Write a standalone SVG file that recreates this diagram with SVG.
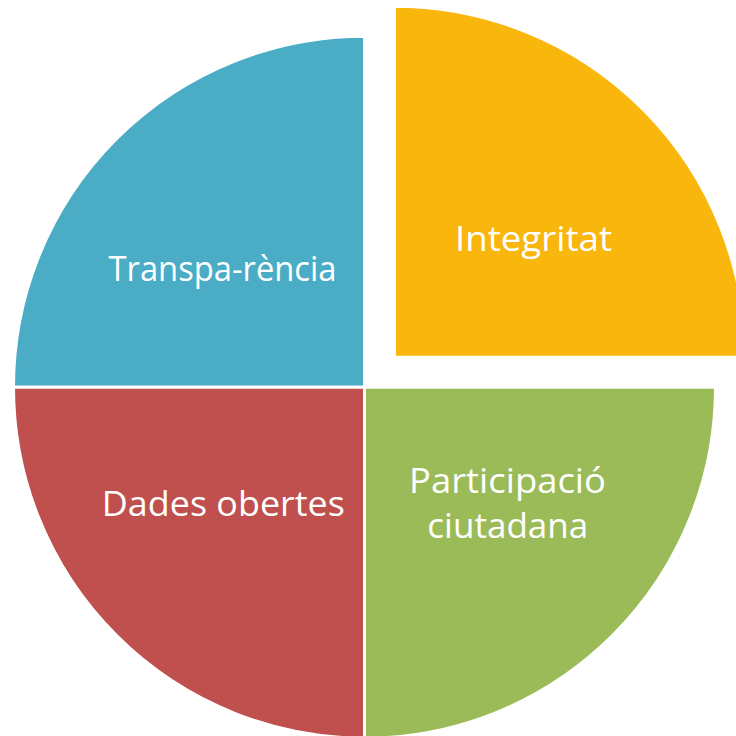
<svg xmlns="http://www.w3.org/2000/svg" width="736" height="736" viewBox="0 0 736 736">
  <style>
    .slice { stroke: #FFFFFF; stroke-width: 3; stroke-linejoin: miter; }
    .lbl { font-family: "Open Sans", "Liberation Sans", sans-serif; font-size: 35px; fill: #FFFFFF; text-anchor: middle; }
  </style>
  <rect width="736" height="736" fill="#FFFFFF"/>
  <g id="transparencia">
    <path class="slice" fill="#4BACC6" d="M364.5,387.2 L364.5,36.2 A351,351 0 0 0 13.5,387.2 Z"/>
    <text class="lbl" x="222.5" y="280.7" textLength="228" lengthAdjust="spacingAndGlyphs">Transpa-rència</text>
  </g>
  <g id="dades-obertes">
    <path class="slice" fill="#C0504D" d="M364.5,387.2 L13.5,387.2 A351,351 0 0 0 364.5,738.2 Z"/>
    <text class="lbl" x="223.3" y="515.7" textLength="243" lengthAdjust="spacingAndGlyphs">Dades obertes</text>
  </g>
  <g id="participacio-ciutadana">
    <path class="slice" fill="#9BBB59" d="M364.5,387.2 L364.5,738.2 A351,351 0 0 0 715.5,387.2 Z"/>
    <text class="lbl" x="507.5" y="493.3" textLength="197" lengthAdjust="spacingAndGlyphs">Participació</text>
    <text class="lbl" x="507.8" y="538.3" textLength="161" lengthAdjust="spacingAndGlyphs">ciutadana</text>
  </g>
  <g id="integritat">
    <path class="slice" fill="#F9B60D" d="M394.5,357.2 L745.5,357.2 A351,351 0 0 0 394.5,6.2 Z"/>
    <text class="lbl" x="533.5" y="250.7" textLength="157" lengthAdjust="spacingAndGlyphs">Integritat</text>
  </g>
  <g id="connectors"></g>
</svg>
